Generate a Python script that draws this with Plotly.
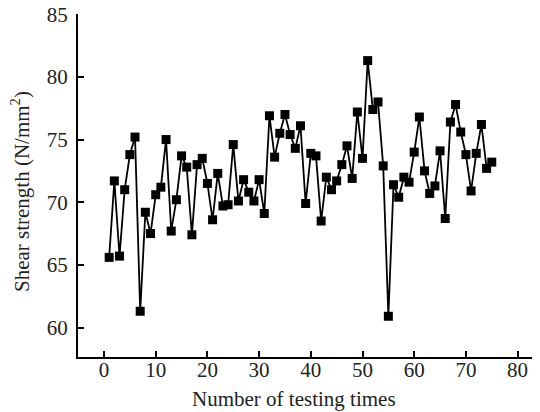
import plotly.graph_objects as go

testing_times = list(range(1, 76))
shear_strength = [
    65.6, 71.7, 65.7, 71.0, 73.8, 75.2, 61.3, 69.2, 67.5, 70.6,
    71.2, 75.0, 67.7, 70.2, 73.7, 72.8, 67.4, 73.0, 73.5, 71.5,
    68.6, 72.3, 69.7, 69.8, 74.6, 70.1, 71.8, 70.8, 70.1, 71.8,
    69.1, 76.9, 73.6, 75.5, 77.0, 75.4, 74.3, 76.1, 69.9, 73.9,
    73.7, 68.5, 72.0, 71.0, 71.7, 73.0, 74.5, 71.9, 77.2, 73.5,
    81.3, 77.4, 78.0, 72.9, 60.9, 71.4, 70.4, 72.0, 71.6, 74.0,
    76.8, 72.5, 70.7, 71.3, 74.1, 68.7, 76.4, 77.8, 75.6, 73.8,
    70.9, 73.9, 76.2, 72.7, 73.2,
]
x_ticks = [0, 10, 20, 30, 40, 50, 60, 70, 80]
y_ticks = [60, 65, 70, 75, 80, 85]

font_family = "Liberation Serif, Times New Roman, serif"
fsize = 21

fig = go.Figure()
fig.add_trace(go.Scatter(
    x=testing_times, y=shear_strength, mode="lines+markers",
    line=dict(color="black", width=1.8),
    marker=dict(symbol="square", size=9, color="black"),
    showlegend=False,
))

# page body has an 8px default margin, so the figure is 8px smaller
fig.update_layout(
    width=532, height=404,
    margin=dict(l=70, r=0, t=6, b=55),
    paper_bgcolor="white", plot_bgcolor="white",
    font=dict(family=font_family, size=fsize, color="#222"),
    xaxis=dict(
        range=[-5.03, 84.33], tickvals=x_ticks, ticks="inside", ticklen=6,
        tickwidth=1.5, tickcolor="black", showline=True, linecolor="black",
        linewidth=2, showgrid=False, zeroline=False, ticklabelstandoff=-7,
        ticklabeloverflow="allow", automargin=False,
    ),
    yaxis=dict(
        range=[57.65, 85.02], tickvals=y_ticks, ticks="inside", ticklen=6,
        tickwidth=1.5, tickcolor="black", showline=True, linecolor="black",
        linewidth=2, showgrid=False, zeroline=False, ticklabelstandoff=4,
        ticklabeloverflow="allow", automargin=False,
    ),
    annotations=[
        dict(text="Number of testing times", xref="paper", yref="paper",
             x=0.467, y=-0.122, xanchor="center", yanchor="middle",
             showarrow=False, font=dict(family=font_family, size=fsize, color="#222")),
        dict(text="Shear strength (N/mm<sup>2</sup>)", xref="paper", yref="paper",
             x=-0.1255, y=0.481, xanchor="center", yanchor="middle", textangle=-90,
             showarrow=False, font=dict(family=font_family, size=fsize, color="#222")),
    ],
)

fig.write_html("out.html")
